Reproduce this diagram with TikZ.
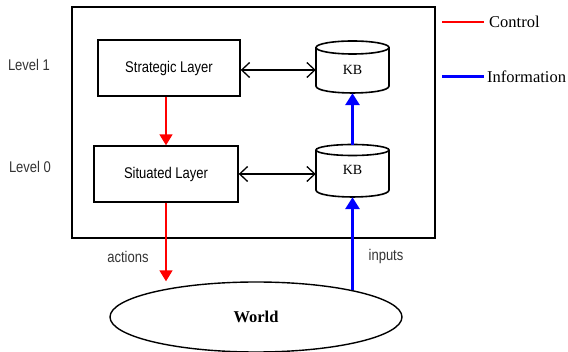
\documentclass[tikz,border=0pt]{standalone}
\usepackage{fontspec}
\setmainfont{Liberation Serif}
\newfontfamily\narrowsans[FakeStretch=0.84]{Liberation Sans}
\usetikzlibrary{arrows.meta,shapes.geometric}
\begin{document}
\begin{tikzpicture}[x=1pt,y=-1pt,
  box/.style={draw,line width=1.4pt,inner sep=0pt,font=\narrowsans\fontsize{15.5}{18}\selectfont},
  kbnode/.style={minimum width=73pt,inner sep=0pt},
  kbtext/.style={font=\fontsize{14}{16}\selectfont},
  cyl/.style={line width=1.6pt},
  dbl/.style={line width=1.3pt,{Straight Barb[length=8pt,width=15pt]}-{Straight Barb[length=8pt,width=15pt]}},
  ctrl/.style={draw=red,line width=1.7pt,-{Triangle[length=11pt,width=13pt]},red},
  info/.style={draw=blue,line width=3pt,-{Triangle[length=12pt,width=14pt]},blue},
  lbl/.style={font=\narrowsans\fontsize{15.5}{18}\selectfont,text=black!80},
  leg/.style={font=\fontsize{16.5}{19}\selectfont}]
\useasboundingbox (0,0) rectangle (568,352);
\node[draw,line width=1.4pt,minimum width=363pt,minimum height=231pt,inner sep=0pt] (outer) at (253.5,122.5) {};
\node[box,minimum width=142pt,minimum height=56pt] (strat) at (169,68) {Strategic Layer};
\node[box,minimum width=144pt,minimum height=56pt] (sit) at (166,174) {Situated Layer};
% knowledge bases
\node[kbnode,minimum height=53pt] (kb1) at (352.5,66.5) {};
\node[kbtext] (kb1t) at (352.5,70) {KB};
\draw[cyl] (352.5,47.5) ellipse[x radius=36.5,y radius=6.5];
\draw[cyl] (316,47.5) -- (316,86) .. controls (316,95.3) and (389,95.3) .. (389,86) -- (389,47.5);
\node[kbnode,minimum height=52pt] (kb0) at (352.5,171) {};
\node[kbtext] (kb0t) at (352.5,170) {KB};
\draw[cyl] (352.5,150) ellipse[x radius=36.5,y radius=5.5];
\draw[cyl] (316,150) -- (316,190) .. controls (316,199.3) and (389,199.3) .. (389,190) -- (389,150);
\node[draw,ellipse,line width=1.4pt,minimum width=292pt,minimum height=70pt,inner sep=0pt,font=\bfseries\fontsize{16.5}{19}\selectfont] (world) at (256,317) {World};
\draw[dbl] (strat.east |- 0,70) -- (kb1.west |- 0,70);
\draw[dbl] (sit.east) -- (kb0.west |- sit.east);
\draw[ctrl] (strat.south -| 166,0) -- (sit.north -| 166,0);
\draw[ctrl] (sit.south) -- (world.north -| 166,0) ;
\draw[info] (kb0.north) -- (kb1.south);
\coordinate (wtop) at (352.5,290);
\draw[info] (wtop) -- (kb0.south);
\node[lbl] (act) at (128,257) {actions};
\node[lbl] (inp) at (386,256) {inputs};
\node[lbl] (l1) at (29,65) {Level 1};
\node[lbl] (l0) at (30,167) {Level 0};
\coordinate (c1) at (442,22); \coordinate (c2) at (484,22);
\draw[red,line width=1.3pt] (c1) -- (c2);
\node[leg,anchor=west,inner sep=0pt] (ctl) at (489,22) {Control};
\coordinate (i1) at (442,77); \coordinate (i2) at (484,77);
\draw[blue,line width=3pt] (i1) -- (i2);
\node[leg,anchor=west,inner sep=0pt] (inf) at (487,77) {Information};
\end{tikzpicture}
\end{document}
